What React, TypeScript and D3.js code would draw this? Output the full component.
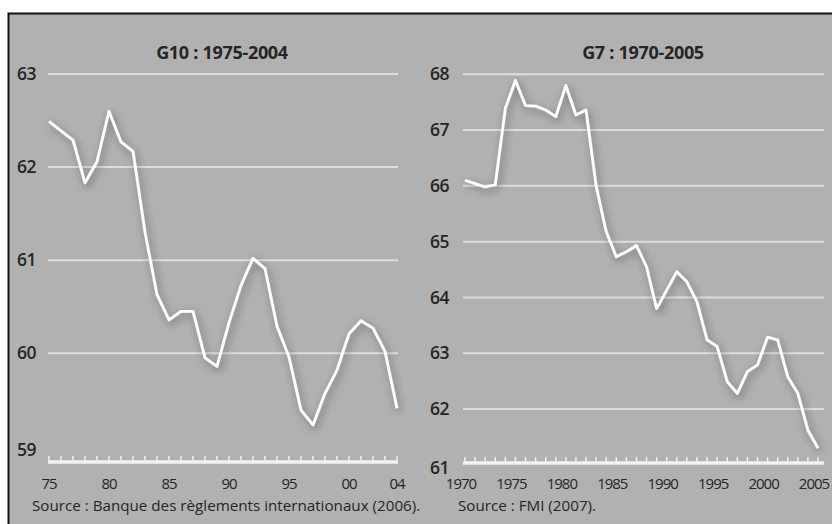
import * as d3 from "d3";

const g10Years = d3.range(1975, 2005);
const g10Values = [
  62.49, 62.39, 62.29, 61.83, 62.06, 62.6, 62.27, 62.17, 61.3, 60.63,
  60.36, 60.45, 60.45, 59.95, 59.86, 60.33, 60.73, 61.02, 60.91, 60.29,
  59.96, 59.39, 59.23, 59.57, 59.82, 60.21, 60.35, 60.27, 60.02, 59.41,
];
const g10TickYears = [1975, 1980, 1985, 1990, 1995, 2000, 2004];
const g10TickLabels = ["75", "80", "85", "90", "95", "00", "04"];
const g10YTicks = [59, 60, 61, 62, 63];

const g7Years = d3.range(1970, 2006);
const g7Values = [
  66.1, 66.04, 65.98, 66.02, 67.39, 67.89, 67.44, 67.43, 67.36, 67.24,
  67.8, 67.27, 67.36, 66.0, 65.18, 64.73, 64.82, 64.93, 64.55, 63.8,
  64.13, 64.46, 64.28, 63.92, 63.24, 63.12, 62.49, 62.28, 62.67, 62.79,
  63.29, 63.24, 62.58, 62.28, 61.62, 61.3,
];
const g7TickYears = [1970, 1975, 1980, 1985, 1990, 1995, 2000, 2005];
const g7YTicks = [61, 62, 63, 64, 65, 66, 67, 68];

const FONT = "'Open Sans', sans-serif";
const TEXT = "#262626";
const BG = "#b1b1b1";
const GRID = "#dedede";

type PanelProps = {
  title: string;
  source: string;
  years: number[];
  values: number[];
  tickYears: number[];
  tickLabels: string[];
  yTicks: number[];
  xRange: [number, number];
  gridX: [number, number];
  yDomain: [number, number];
  yRange: [number, number];
  axisY: number;
  labelX: number;
  labelDx: number;
  titleX: number;
  sourceX: number;
};

function Panel(p: PanelProps) {
  const x = d3.scaleLinear().domain([p.years[0], p.years[p.years.length - 1]]).range(p.xRange);
  const y = d3.scaleLinear().domain(p.yDomain).range(p.yRange);
  const line = d3.line<number>()
    .x((_, i) => x(p.years[i]))
    .y(d => y(d));
  const minTick = p.yDomain[0];
  return (
    <g>
      <text x={p.titleX} y={53} dy="0.35em" textAnchor="middle" fontFamily={FONT} fontWeight={700}
        fontSize={18} letterSpacing={-0.3} fill={TEXT}>{p.title}</text>
      {p.yTicks.map(t => (
        <g key={t}>
          {t !== minTick && (
            <line x1={p.gridX[0]} x2={p.gridX[1]} y1={y(t)} y2={y(t)} stroke={GRID} strokeWidth={2} />
          )}
          <text x={p.labelX} y={y(t) + (t === minTick ? 3 : 0)} dy="0.35em" fontFamily={FONT}
            fontWeight={600} fontSize={17.5} letterSpacing={-0.4} fill={TEXT}>{t}</text>
        </g>
      ))}
      <line x1={p.gridX[0]} x2={p.gridX[1]} y1={p.axisY} y2={p.axisY} stroke="#f2f2f2" strokeWidth={3.5} />
      {p.years.map(yr => (
        <line key={yr} x1={x(yr)} x2={x(yr)} y1={p.axisY} y2={p.axisY - 6} stroke="#f2f2f2" strokeWidth={1.4} />
      ))}
      {p.tickYears.map((yr, i) => (
        <text key={yr} x={x(yr) + p.labelDx} y={484} dy="0.35em" textAnchor="middle" fontFamily={FONT}
          fontSize={15} letterSpacing={-1} fill={TEXT}>{p.tickLabels[i]}</text>
      ))}
      <path d={line(p.values) ?? ""} fill="none" stroke="#ffffff" strokeWidth={2.8}
        strokeLinejoin="round" filter="url(#shadow)" />
      <text x={p.sourceX} y={506} dy="0.35em" fontFamily={FONT} fontSize={15.2}
        fill={TEXT}>{p.source}</text>
    </g>
  );
}

export default function App() {
  return (
    <svg width={832} height={524} style={{ position: "absolute", left: 0, top: 0, background: "#fff" }}>
      <defs>
        <filter id="shadow" x="-10%" y="-10%" width="120%" height="120%">
          <feDropShadow dx={2} dy={3} stdDeviation={4} floodColor="#000" floodOpacity={0.45} />
        </filter>
      </defs>
      <rect x={8.5} y={13.5} width={840} height={530} fill={BG} stroke="#111" strokeWidth={2} />
      <Panel
        title="G10 : 1975-2004"
        source="Source : Banque des règlements internationaux (2006)."
        years={g10Years}
        values={g10Values}
        tickYears={g10TickYears}
        tickLabels={g10TickLabels}
        yTicks={g10YTicks}
        xRange={[49, 397]}
        gridX={[48, 398]}
        yDomain={[59, 63]}
        yRange={[446.4, 74]}
        axisY={462}
        labelX={17}
        labelDx={0}
        titleX={222}
        sourceX={32}
      />
      <Panel
        title="G7 : 1970-2005"
        source="Source : FMI (2007)."
        years={g7Years}
        values={g7Values}
        tickYears={g7TickYears}
        tickLabels={g7TickYears.map(String)}
        yTicks={g7YTicks}
        xRange={[465, 818]}
        gridX={[463, 824]}
        yDomain={[61, 68]}
        yRange={[464.8, 74.3]}
        axisY={463}
        labelX={430}
        labelDx={-4}
        titleX={643}
        sourceX={458}
      />
    </svg>
  );
}
